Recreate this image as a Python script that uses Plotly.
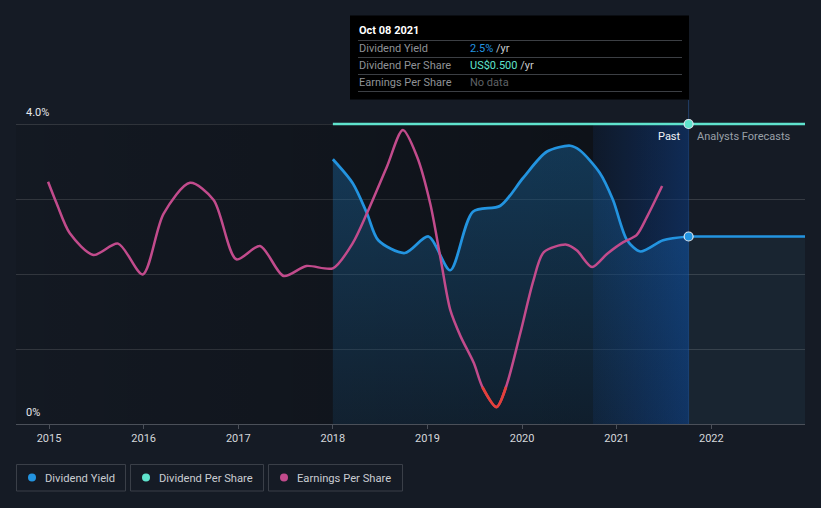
import plotly.graph_objects as go

# ---------------- data ----------------
dy_years = [2018.00, 2018.21, 2018.36, 2018.48, 2018.76, 2019.01, 2019.24, 2019.48,
            2019.77, 2020.01, 2020.26, 2020.51, 2020.61, 2020.82, 2020.96, 2021.11,
            2021.25, 2021.49, 2021.76]
dy_values = [3.53, 3.21, 2.81, 2.45, 2.28, 2.50, 2.05, 2.83,
             2.91, 3.28, 3.63, 3.71, 3.65, 3.35, 2.99, 2.45,
             2.30, 2.45, 2.50]
dy_fc_years = [2021.76, 2022.99]
dy_fc_values = [2.50, 2.50]

dps_years = [2018.00, 2021.76, 2022.99]
dps_values = [0.50, 0.50, 0.50]

eps_years = [2014.99, 2015.08, 2015.22, 2015.47, 2015.73, 2015.99, 2016.21, 2016.49,
             2016.74, 2016.98, 2017.23, 2017.48, 2017.72, 2018.00, 2018.21, 2018.36,
             2018.57, 2018.74, 2018.89, 2019.03, 2019.14, 2019.24, 2019.35, 2019.49,
             2019.58, 2019.73, 2019.83, 2019.98, 2020.12, 2020.23, 2020.47, 2020.58,
             2020.74, 2020.90, 2021.07, 2021.21, 2021.32, 2021.48]
eps_values = [0.799, 0.715, 0.598, 0.514, 0.558, 0.438, 0.674, 0.795,
              0.728, 0.497, 0.549, 0.432, 0.471, 0.462, 0.560, 0.676,
              0.856, 1.000, 0.896, 0.712, 0.496, 0.301, 0.197, 0.093,
              0.000, -0.078, 0.000, 0.208, 0.415, 0.525, 0.554, 0.531,
              0.467, 0.519, 0.564, 0.591, 0.662, 0.782]

year_ticks = [2015, 2016, 2017, 2018, 2019, 2020, 2021, 2022]
year_labels = [str(y) for y in year_ticks]
y_ticks = [0, 1, 2, 3, 4]
y_labels = ["0%", "", "", "", "4.0%"]

hover_date = "Oct 08 2021"
hover_x = 2021.76
hover_dy = "2.5%"
hover_dps = "US$0.500"

# ---------------- style ----------------
W, H = 821, 508
ML, MR, MT, MB = 16, 16, 100, 84
BG = "#151b25"
BLUE = "#2394e0"
TEAL = "#5fe3cd"
PINK = "#c24b8c"
RED = "#e5403a"
FONT = "Roboto"

XR = [2014.651, 2022.99]
YR = [0, 4.32]
Y2R = [0, 0.5 * YR[1] / 4.0]
Y3R = [-0.144, 1.117]

pw = W - ML - MR
ph = H - MT - MB


def px(x):
    return (x - ML) / pw


def py(y):
    return (H - MB - y) / ph


fig = go.Figure()

# past darkening region
fig.add_trace(go.Scatter(
    x=[XR[0], hover_x, hover_x, XR[0], XR[0]], y=[0, 0, 4, 4, 0],
    mode="lines", line=dict(width=0), fill="toself",
    fillgradient=dict(type="horizontal", start=XR[0], stop=hover_x,
                      colorscale=[[0, "rgba(0,0,0,0.08)"], [1, "rgba(0,0,0,0.38)"]]),
    hoverinfo="skip", showlegend=False))

# dividend yield fill (past)
fig.add_trace(go.Scatter(
    x=dy_years, y=dy_values, mode="lines",
    line=dict(width=0, shape="spline", smoothing=0.8),
    fill="tozeroy",
    fillgradient=dict(type="vertical", start=0, stop=3.7,
                      colorscale=[[0, "rgba(30,140,220,0.10)"], [1, "rgba(30,140,220,0.30)"]]),
    hoverinfo="skip", showlegend=False))

# forecast fill
fig.add_trace(go.Scatter(
    x=dy_fc_years, y=dy_fc_values, mode="lines", line=dict(width=0),
    fill="tozeroy", fillcolor="rgba(70,130,160,0.10)",
    hoverinfo="skip", showlegend=False))

# hover band (last year)
fig.add_trace(go.Scatter(
    x=[hover_x - 1.01, hover_x, hover_x, hover_x - 1.01, hover_x - 1.01], y=[0, 0, 4, 4, 0],
    mode="lines", line=dict(width=0), fill="toself",
    fillgradient=dict(type="horizontal", start=hover_x - 1.01, stop=hover_x,
                      colorscale=[[0, "rgba(20,90,200,0.10)"], [1, "rgba(20,100,220,0.32)"]]),
    hoverinfo="skip", showlegend=False))

# EPS line
fig.add_trace(go.Scatter(
    x=eps_years, y=eps_values, yaxis="y3", mode="lines",
    line=dict(color=PINK, width=2.5, shape="spline", smoothing=0.8),
    hoverinfo="skip", showlegend=False))
neg_x = [x for x, v in zip(eps_years, eps_values) if v <= 0]
neg_y = [v for v in eps_values if v <= 0]
fig.add_trace(go.Scatter(
    x=neg_x, y=neg_y, yaxis="y3", mode="lines",
    line=dict(color=RED, width=2.7, shape="spline", smoothing=0.8),
    hoverinfo="skip", showlegend=False))

# Dividend yield lines
fig.add_trace(go.Scatter(
    x=dy_years, y=dy_values, mode="lines",
    line=dict(color=BLUE, width=2.7, shape="spline", smoothing=0.8),
    hoverinfo="skip", showlegend=False))
fig.add_trace(go.Scatter(
    x=dy_fc_years, y=dy_fc_values, mode="lines",
    line=dict(color=BLUE, width=2.7),
    hoverinfo="skip", showlegend=False))

# DPS line
fig.add_trace(go.Scatter(
    x=dps_years, y=dps_values, yaxis="y2", mode="lines",
    line=dict(color=TEAL, width=2.7),
    hoverinfo="skip", showlegend=False))

# hover markers
fig.add_trace(go.Scatter(
    x=[hover_x], y=[dy_fc_values[0]], mode="markers",
    marker=dict(color=BLUE, size=9, line=dict(color="#dfe8f0", width=1.2)),
    hoverinfo="skip", showlegend=False))
fig.add_trace(go.Scatter(
    x=[hover_x], y=[dps_values[1]], yaxis="y2", mode="markers",
    marker=dict(color=TEAL, size=9, line=dict(color="#dfe8f0", width=1.2)),
    hoverinfo="skip", showlegend=False))

shapes = []
annotations = []

# divider line
shapes.append(dict(type="line", xref="x", yref="paper", x0=hover_x, x1=hover_x, y0=0, y1=1,
                   line=dict(color="rgba(45,95,160,0.55)", width=1), layer="below"))

# y labels
for v, t in zip(y_ticks, y_labels):
    if t:
        annotations.append(dict(x=px(24), y=v, xref="paper", yref="y", text=t,
                                xanchor="left", yanchor="bottom", showarrow=False,
                                yshift=3, font=dict(family=FONT, size=11, color="#e6e8eb")))

annotations.append(dict(x=hover_x, y=py(136), xref="x", yref="paper", text="Past",
                        xanchor="right", yanchor="middle", showarrow=False, xshift=-6,
                        font=dict(family=FONT, size=11, color="#f2f4f6")))
annotations.append(dict(x=hover_x, y=py(136), xref="x", yref="paper", text="Analysts Forecasts",
                        xanchor="left", yanchor="middle", showarrow=False, xshift=6,
                        font=dict(family=FONT, size=11, color="#9aa0a8")))

# tooltip
shapes.append(dict(type="rect", xref="paper", yref="paper", x0=px(350), x1=px(689),
                   y0=py(99.5), y1=py(15.5), fillcolor="#000000", line=dict(width=0), layer="above"))
for ly in [40.5, 57.5, 74.5, 91.5]:
    shapes.append(dict(type="line", xref="paper", yref="paper", x0=px(358), x1=px(682),
                       y0=py(ly), y1=py(ly), line=dict(color="#3c3f44", width=1), layer="above"))
annotations.append(dict(x=px(357), y=py(31), xref="paper", yref="paper", text="<b>" + hover_date + "</b>",
                        xanchor="left", yanchor="middle", showarrow=False,
                        font=dict(family=FONT, size=11, color="#ffffff")))
rows = [("Dividend Yield", hover_dy, BLUE, " /yr", 48.5),
        ("Dividend Per Share", hover_dps, TEAL, " /yr", 65.5),
        ("Earnings Per Share", "No data", "#5f6266", "", 82.5)]
for lab, val, col, suf, ry in rows:
    annotations.append(dict(x=px(357), y=py(ry), xref="paper", yref="paper", text=lab,
                            xanchor="left", yanchor="middle", showarrow=False,
                            font=dict(family=FONT, size=11, color="#8f9296")))
    txt = "<span style='color:%s'>%s</span>" % (col, val)
    if suf:
        txt += "<span style='color:#c9cbce'>%s</span>" % suf
    annotations.append(dict(x=px(468), y=py(ry), xref="paper", yref="paper", text=txt,
                            xanchor="left", yanchor="middle", showarrow=False,
                            font=dict(family=FONT, size=11, color="#c9cbce")))

# legend
legend_items = [("Dividend Yield", BLUE, 16, 125.5),
                ("Dividend Per Share", TEAL, 130, 263.5),
                ("Earnings Per Share", PINK, 268, 402.5)]
for name, col, x0, x1 in legend_items:
    shapes.append(dict(type="rect", xref="paper", yref="paper", x0=px(x0 + 0.5), x1=px(x1),
                       y0=py(491), y1=py(464.5), line=dict(color="#3a3f48", width=1),
                       fillcolor="rgba(0,0,0,0)"))
    shapes.append(dict(type="circle", xref="paper", yref="paper", x0=px(x0 + 12), x1=px(x0 + 20),
                       y0=py(481.5), y1=py(473.5), fillcolor=col, line=dict(width=0)))
    annotations.append(dict(x=px(x0 + 27), y=py(478), xref="paper", yref="paper", text=name,
                            xanchor="left", yanchor="middle", showarrow=False,
                            font=dict(family=FONT, size=11.2, color="#c9ccd1")))

fig.update_layout(
    width=W, height=H,
    margin=dict(l=ML, r=MR, t=MT, b=MB),
    paper_bgcolor=BG, plot_bgcolor=BG,
    showlegend=False,
    shapes=shapes, annotations=annotations,
    xaxis=dict(range=XR, tickvals=year_ticks, ticktext=year_labels, showgrid=False,
               zeroline=False, showline=True, linecolor="#4b5059", linewidth=1,
               ticks="outside", ticklen=4, tickcolor="#4b5059",
               tickfont=dict(family=FONT, size=11, color="#d4d7db")),
    yaxis=dict(range=YR, tickvals=y_ticks, showticklabels=False, showgrid=True,
               gridcolor="rgba(255,255,255,0.14)", gridwidth=1, zeroline=False),
    yaxis2=dict(range=Y2R, overlaying="y", visible=False),
    yaxis3=dict(range=Y3R, overlaying="y", visible=False),
)

fig.write_html("out.html", config={"displayModeBar": False},
               post_script="document.body.style.margin='0';document.body.style.background='%s';" % BG)
